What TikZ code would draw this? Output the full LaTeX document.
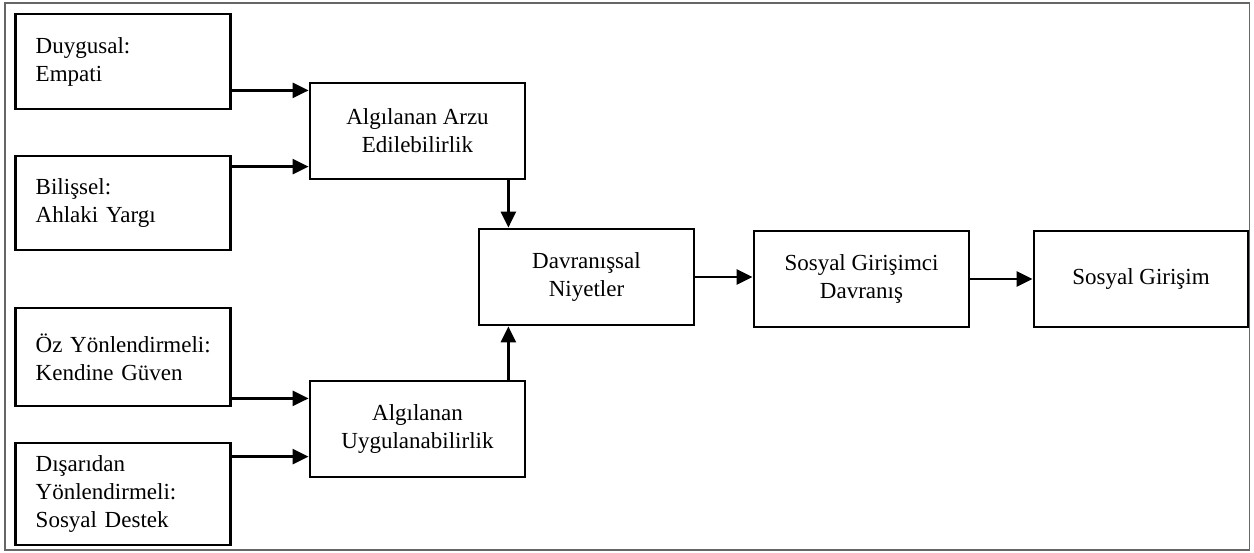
\documentclass[tikz,border=0pt]{standalone}
\usepackage{fontspec}
\setmainfont{Liberation Serif}
\usetikzlibrary{arrows.meta,calc}
\begin{document}
\begin{tikzpicture}[x=0.5pt,y=-0.5pt,
  box/.style={draw=black,line width=1.4pt,minimum width=107.5pt,inner sep=0pt,
    font=\fontsize{11.5pt}{14pt}\selectfont,align=center},
  lbox/.style={box,text width=87.5pt,inner xsep=10pt,align=left},
  arr/.style={line width=1.3pt,-{Triangle[length=8pt,width=7.5pt]}},
  frame/.style={draw=black!60,line width=0.6pt}]
\useasboundingbox (0,0) rectangle (1254,552);
\draw[frame] (5,3) rectangle (1249.5,550);

\node[lbox,minimum height=47.5pt] (duy) at (123.25,61.5) {\mbox{Duygusal:}\\\mbox{Empati}};
\node[lbox,minimum height=47pt] (bil) at (123.25,203) {\mbox{Bilişsel:}\\\mbox{Ahlaki Yargı}};
\node[lbox,minimum height=49pt] (oz) at (123.25,357) {\mbox{Öz Yönlendirmeli:}\\\mbox{Kendine Güven}};
\node[lbox,minimum height=51pt] (dis) at (123.25,494) {\mbox{Dışarıdan}\\\mbox{Yönlendirmeli:}\\\mbox{Sosyal Destek}};

\node[box,minimum height=48pt] (arzu) at (417.5,131) {Algılanan Arzu\\Edilebilirlik};
\node[box,minimum height=48pt] (uyg) at (417.5,429) {Algılanan\\Uygulanabilirlik};
\node[box,minimum height=48pt] (davr) at (586.5,277) {Davranışsal\\Niyetler};
\node[box,minimum height=48pt] (sgd) at (861.5,279) {Sosyal Girişimci\\Davranış};
\node[box,minimum height=48pt,minimum width=107pt] (sg) at (1141,279) {Sosyal Girişim};

\coordinate (a1) at ([yshift=10pt]duy.south east);
\coordinate (a2) at ([yshift=-6pt]bil.north east);
\coordinate (a3) at ([yshift=4.5pt]oz.south east);
\coordinate (a4) at ([yshift=-7.5pt]dis.north east);
\coordinate (a5) at ([xshift=-9pt]arzu.south east);
\coordinate (a6) at ([xshift=-9pt]uyg.north east);

\draw[arr] (a1) -- (a1 -| arzu.west);
\draw[arr] (a2) -- (a2 -| arzu.west);
\draw[arr] (a3) -- (a3 -| uyg.west);
\draw[arr] (a4) -- (a4 -| uyg.west);
\draw[arr] (a5) -- (a5 |- davr.north);
\draw[arr] (a6) -- (a6 |- davr.south);
\draw[arr] (davr.east) -- (davr.east -| sgd.west);
\draw[arr] (sgd.east) -- (sgd.east -| sg.west);
\end{tikzpicture}
\end{document}
